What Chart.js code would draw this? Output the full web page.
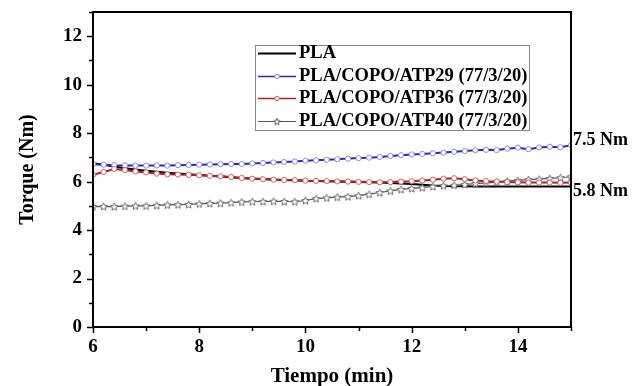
<!DOCTYPE html>
<html>
<head>
<meta charset="utf-8">
<script src="https://cdn.jsdelivr.net/npm/chart.js@4.4.1/dist/chart.umd.min.js"></script>
<style>
  html, body { margin: 0; padding: 0; background: #ffffff; }
  #wrap { width: 637px; height: 386px; }
</style>
</head>
<body>
<div id="wrap"><canvas id="torque" width="637" height="386"></canvas></div>
<script>
// Sampling times (min)
const timeMin = [6.0, 6.2, 6.4, 6.6, 6.8, 7.0, 7.2, 7.4, 7.6, 7.8,
                 8.0, 8.2, 8.4, 8.6, 8.8, 9.0, 9.2, 9.4, 9.6, 9.8,
                 10.0, 10.2, 10.4, 10.6, 10.8, 11.0, 11.2, 11.4, 11.6, 11.8,
                 12.0, 12.2, 12.4, 12.6, 12.8, 13.0, 13.2, 13.4, 13.6, 13.8,
                 14.0, 14.2, 14.4, 14.6, 14.8, 15.0];

// Torque (Nm) for each formulation
const torquePLA = [6.76, 6.70, 6.62, 6.55, 6.50, 6.45, 6.41, 6.37, 6.33, 6.30,
                   6.27, 6.24, 6.21, 6.18, 6.15, 6.13, 6.11, 6.09, 6.07, 6.06,
                   6.04, 6.03, 6.01, 6.00, 5.99, 5.98, 5.97, 5.96, 5.94, 5.92,
                   5.90, 5.87, 5.84, 5.82, 5.81, 5.81, 5.80, 5.80, 5.80, 5.80,
                   5.80, 5.80, 5.80, 5.80, 5.80, 5.80];
const torqueATP29 = [6.72, 6.70, 6.68, 6.67, 6.66, 6.66, 6.67, 6.66, 6.68, 6.69,
                     6.70, 6.71, 6.72, 6.73, 6.73, 6.75, 6.77, 6.79, 6.81, 6.83,
                     6.86, 6.88, 6.90, 6.92, 6.95, 6.97, 6.99, 7.02, 7.06, 7.09,
                     7.12, 7.14, 7.17, 7.20, 7.23, 7.26, 7.29, 7.31, 7.30, 7.36,
                     7.40, 7.34, 7.41, 7.44, 7.42, 7.50];
const torqueATP36 = [6.28, 6.40, 6.52, 6.48, 6.42, 6.38, 6.33, 6.30, 6.29, 6.28,
                     6.26, 6.24, 6.22, 6.19, 6.15, 6.12, 6.10, 6.08, 6.07, 6.06,
                     6.04, 6.03, 6.02, 6.01, 6.00, 5.99, 5.98, 5.97, 5.98, 6.00,
                     6.02, 6.05, 6.08, 6.12, 6.14, 6.10, 6.05, 6.02, 6.00, 5.98,
                     5.97, 5.96, 5.96, 5.96, 5.95, 5.96];
const torqueATP40 = [4.97, 4.98, 4.97, 4.99, 5.00, 5.00, 5.02, 5.04, 5.05, 5.06,
                     5.08, 5.10, 5.11, 5.13, 5.16, 5.17, 5.18, 5.19, 5.18, 5.17,
                     5.22, 5.30, 5.33, 5.36, 5.38, 5.42, 5.48, 5.55, 5.62, 5.68,
                     5.72, 5.75, 5.80, 5.83, 5.85, 5.88, 5.92, 5.95, 5.98, 6.02,
                     6.05, 6.08, 6.10, 6.13, 6.16, 6.20];

const seriesNames = ['PLA', 'PLA/COPO/ATP29 (77/3/20)', 'PLA/COPO/ATP36 (77/3/20)', 'PLA/COPO/ATP40 (77/3/20)'];
const xTickValues = [6, 8, 10, 12, 14];
const yTickValues = [0, 2, 4, 6, 8, 10, 12];
const endLabels = [
  { text: '7.5 Nm', value: torqueATP29[torqueATP29.length - 1], dy: -5 },
  { text: '5.8 Nm', value: torquePLA[torquePLA.length - 1], dy: 5 }
];

const SERIF = "'Liberation Serif', 'Times New Roman', serif";
const pts = ys => timeMin.map((t, i) => ({ x: t, y: ys[i] }));

// Hollow five-point star marker
function makeStar(r, stroke) {
  const size = Math.ceil(r * 2 + 3);
  const c = document.createElement('canvas');
  c.width = size; c.height = size;
  const g = c.getContext('2d');
  const cx = size / 2, cy = size / 2 + 0.4;
  g.beginPath();
  for (let k = 0; k < 10; k++) {
    const rr = k % 2 === 0 ? r : r * 0.45;
    const ang = -Math.PI / 2 + k * Math.PI / 5;
    const px = cx + rr * Math.cos(ang), py = cy + rr * Math.sin(ang);
    k === 0 ? g.moveTo(px, py) : g.lineTo(px, py);
  }
  g.closePath();
  g.fillStyle = '#ffffff';
  g.fill();
  g.strokeStyle = stroke;
  g.lineWidth = 1;
  g.stroke();
  return c;
}
const starMark = makeStar(4, '#6a6a6a');
const starLegend = makeStar(3.5, '#555555');

// Box frame, major/minor ticks, inset legend and end-value labels
const decorations = {
  id: 'decorations',
  afterDraw(chart) {
    const { ctx, chartArea: a, scales: { x, y } } = chart;
    ctx.save();
    ctx.strokeStyle = '#000';
    ctx.lineWidth = 2;
    ctx.strokeRect(a.left, a.top, a.right - a.left, a.bottom - a.top);

    ctx.lineWidth = 1.5;
    ctx.beginPath();
    for (let v = 0; v <= 13; v++) {
      const py = Math.round(y.getPixelForValue(v)) + 0.5;
      const len = v % 2 === 0 ? 6 : 4;
      ctx.moveTo(a.left - len, py); ctx.lineTo(a.left, py);
    }
    for (let v = 6; v <= 15; v++) {
      const px = Math.round(x.getPixelForValue(v)) + 0.5;
      const len = v % 2 === 0 ? 6 : 4;
      ctx.moveTo(px, a.bottom); ctx.lineTo(px, a.bottom + len);
    }
    ctx.stroke();

    // legend
    const lx = 255, ly = 45, lw = 274, lh = 85;
    ctx.fillStyle = '#fff';
    ctx.fillRect(lx, ly, lw, lh);
    ctx.strokeStyle = '#8a8a8a';
    ctx.lineWidth = 1;
    ctx.strokeRect(lx + 0.5, ly + 0.5, lw, lh);
    ctx.font = "bold 18.5px " + SERIF;
    ctx.textBaseline = 'middle';
    ctx.textAlign = 'left';
    [0, 1, 2, 3].forEach((di, i) => {
      const ds = chart.data.datasets.find(d => d.key === di);
      const cy = Math.round(ly + 8 + i * 22.5) + 0.5;
      ctx.strokeStyle = ds.borderColor;
      ctx.lineWidth = di === 0 ? 2 : (di === 3 ? 1.2 : 1.6);
      ctx.beginPath(); ctx.moveTo(lx + 3, cy); ctx.lineTo(lx + 41, cy); ctx.stroke();
      if (di === 1 || di === 2) {
        ctx.fillStyle = '#fff';
        ctx.strokeStyle = ds.pointBorderColor;
        ctx.lineWidth = 1;
        ctx.beginPath(); ctx.arc(lx + 22, cy, 2.2, 0, Math.PI * 2); ctx.fill(); ctx.stroke();
      } else if (di === 3) {
        ctx.drawImage(starLegend, lx + 22 - starLegend.width / 2, cy - starLegend.height / 2);
      }
      ctx.fillStyle = '#000';
      ctx.fillText(seriesNames[di], lx + 44, cy);
    });

    // end-value labels
    ctx.font = "bold 18px " + SERIF;
    ctx.fillStyle = '#000';
    endLabels.forEach(l => {
      ctx.fillText(l.text, a.right + 2, y.getPixelForValue(l.value) + l.dy);
    });
    ctx.restore();
  }
};

new Chart(document.getElementById('torque'), {
  type: 'line',
  data: {
    datasets: [
      { key: 0, label: seriesNames[0], data: pts(torquePLA), order: 4,
        borderColor: '#000000', borderWidth: 2, pointRadius: 0 },
      { key: 3, label: seriesNames[3], data: pts(torqueATP40), order: 3,
        borderColor: '#555555', borderWidth: 1.2, pointStyle: starMark, pointRadius: 4 },
      { key: 1, label: seriesNames[1], data: pts(torqueATP29), order: 2,
        borderColor: '#2a2ab8', borderWidth: 2, pointStyle: 'circle', pointRadius: 2.6,
        pointBorderColor: '#8a8ae0', pointBackgroundColor: '#ffffff', pointBorderWidth: 1 },
      { key: 2, label: seriesNames[2], data: pts(torqueATP36), order: 1,
        borderColor: '#b02020', borderWidth: 2, pointStyle: 'circle', pointRadius: 2.6,
        pointBorderColor: '#d06060', pointBackgroundColor: '#ffffff', pointBorderWidth: 1 }
    ]
  },
  options: {
    responsive: false,
    animation: false,
    devicePixelRatio: 1,
    layout: { padding: { top: 12, right: 66, left: 0, bottom: 0 } },
    plugins: { legend: { display: false }, tooltip: { enabled: false } },
    elements: { line: { tension: 0 } },
    scales: {
      x: {
        type: 'linear', min: 6, max: 15,
        afterBuildTicks: s => { s.ticks = xTickValues.map(v => ({ value: v })); },
        afterFit: s => { s.height = 59; s.paddingLeft = 0; s.paddingRight = 0; },
        grid: { display: false, drawTicks: false },
        border: { display: false },
        ticks: { color: '#000', padding: 9, maxRotation: 0,
                 font: { family: SERIF, size: 19, weight: 'bold' } },
        title: { display: true, text: 'Tiempo (min)', color: '#000', padding: { top: 2, bottom: -1 },
                 font: { family: SERIF, size: 21, weight: 'bold', lineHeight: 1 } }
      },
      y: {
        type: 'linear', min: 0, max: 13,
        afterBuildTicks: s => { s.ticks = yTickValues.map(v => ({ value: v })); },
        afterFit: s => { s.width = 93; s.paddingTop = 0; s.paddingBottom = 0; },
        grid: { display: false, drawTicks: false },
        border: { display: false },
        ticks: { color: '#000', padding: 11,
                 font: { family: SERIF, size: 19, weight: 'bold' } },
        title: { display: true, text: 'Torque (Nm)', color: '#000', padding: { top: 16, bottom: 0 },
                 font: { family: SERIF, size: 20, weight: 'bold' } }
      }
    }
  },
  plugins: [decorations]
});
</script>
</body>
</html>
